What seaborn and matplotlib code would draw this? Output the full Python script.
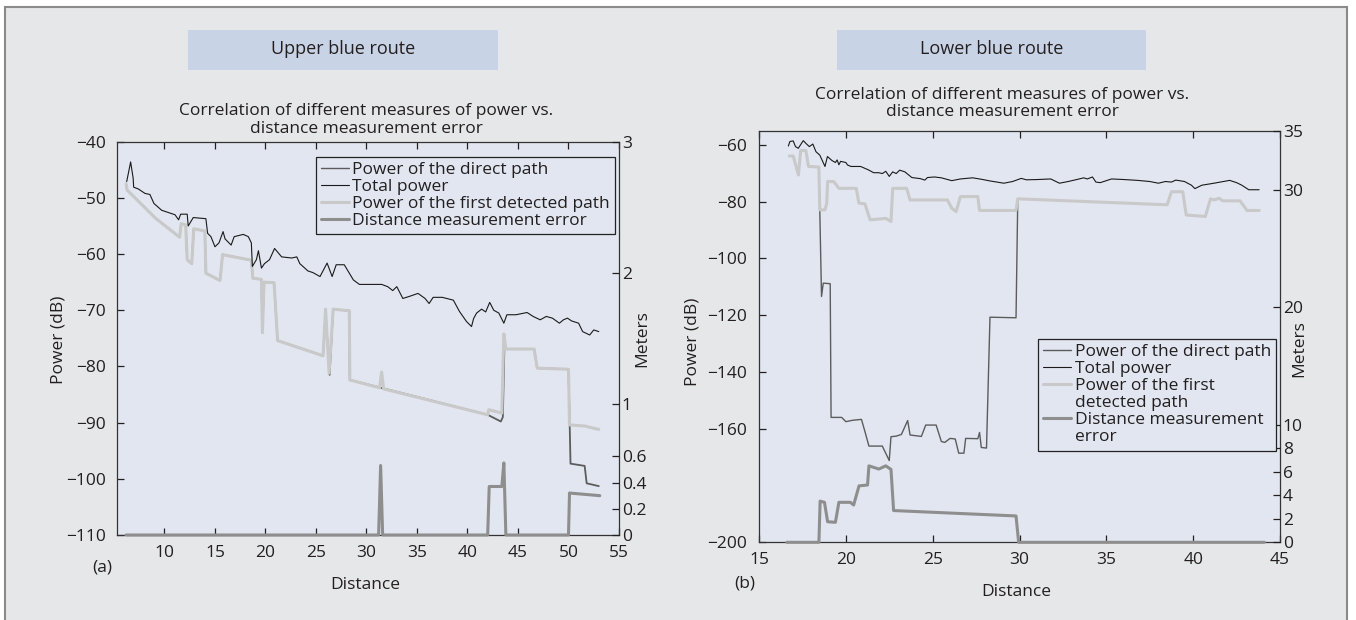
import matplotlib
matplotlib.use("Agg")
import matplotlib.pyplot as plt
import seaborn as sns
import numpy as np
from matplotlib.patches import Rectangle
from matplotlib.lines import Line2D

# ---------------- data: upper blue route (a) ----------------
up_total_x = [6.26, 6.65, 6.9, 6.95, 7.4, 8.07, 8.56, 8.96, 9.72, 10.54, 11.04, 11.4, 11.6, 12.25, 12.35,
              12.85, 14.1, 14.27, 14.6, 15.0, 15.4, 15.8, 16.0, 16.6, 16.9, 17.8, 18.3, 18.6, 18.7, 19.1,
              19.3, 19.6, 19.9, 20.4, 20.9, 21.6, 22.6, 23.1, 23.4, 24.2, 24.7, 25.4, 26.1, 26.6, 27.0,
              27.8, 28.7, 29.3, 31.5, 32.1, 32.6, 33.0, 33.6, 34.3, 35.1, 35.8, 36.2, 36.6, 37.5, 38.6,
              39.2, 39.9, 40.4, 40.6, 40.9, 41.4, 41.8, 42.2, 42.6, 43.1, 43.6, 43.9, 44.8, 45.9, 46.5,
              47.2, 47.8, 48.4, 49.1, 49.5, 49.9, 50.3, 51.0, 51.4, 52.1, 52.5, 53.0]
up_total_y = [-47.1, -43.6, -46.5, -48.1, -48.4, -49.2, -49.4, -51.0, -52.2, -52.7, -53.0, -53.9, -52.9, -52.9, -55.0,
              -53.5, -53.7, -56.3, -56.9, -58.7, -58.0, -56.0, -57.3, -58.4, -56.9, -56.5, -56.9, -58.0, -62.2, -61.0,
              -59.4, -62.5, -61.7, -61.0, -59.0, -60.5, -60.7, -60.5, -61.7, -63.0, -63.3, -64.0, -61.6, -64.0, -61.9,
              -61.9, -64.6, -65.4, -65.4, -65.8, -66.5, -65.8, -67.9, -67.5, -67.0, -67.9, -68.8, -67.7, -67.7, -68.2,
              -70.2, -72.0, -72.9, -71.5, -70.5, -69.8, -70.3, -68.6, -70.0, -70.5, -72.3, -70.8, -70.8, -70.4, -71.1,
              -71.7, -71.1, -71.4, -72.3, -71.7, -71.4, -71.9, -72.3, -73.8, -74.4, -73.5, -73.8]

up_first_x = [6.2, 6.3, 9.1, 11.5, 11.65, 12.1, 12.25, 12.7, 12.9, 14.0, 14.1, 15.5, 15.75, 18.6, 18.75,
              19.6, 19.7, 19.85, 20.85, 21.2, 25.7, 25.95, 26.3, 26.7, 28.3, 28.35, 31.3, 31.5, 31.7, 42.0,
              42.1, 43.4, 43.6, 43.8, 46.6, 46.9, 50.0, 50.1, 51.6, 52.5, 53.0]
up_first_y = [-47.5, -48.6, -53.6, -57.0, -54.6, -54.8, -61.0, -61.7, -55.5, -55.9, -63.4, -64.7, -60.1, -61.1, -64.3,
              -64.5, -74.0, -65.0, -65.1, -75.4, -78.1, -69.8, -81.2, -69.8, -70.1, -82.4, -83.8, -81.0, -84.0, -88.6,
              -87.7, -88.3, -74.2, -76.9, -76.9, -80.3, -80.5, -90.4, -90.6, -91.0, -91.2]

up_direct_x = [6.2, 6.3, 9.1, 11.5, 11.65, 12.1, 12.25, 12.7, 12.9, 14.0, 14.1, 15.5, 15.75, 18.6, 18.75,
               19.6, 19.7, 19.85, 20.85, 21.2, 25.7, 25.95, 26.35, 26.7, 28.3, 28.35, 42.0, 43.3, 43.5, 43.65,
               46.6, 46.9, 50.0, 50.2, 51.6, 51.8, 53.0]
up_direct_y = [-47.5, -48.6, -53.6, -57.0, -54.6, -54.8, -61.0, -61.7, -55.5, -55.9, -63.4, -64.7, -60.1, -61.1, -64.3,
               -64.5, -74.0, -65.0, -65.1, -75.4, -78.1, -70.5, -81.5, -69.8, -70.1, -82.4, -88.6, -89.8, -89.0, -76.9,
               -76.9, -80.3, -80.5, -97.3, -97.7, -100.8, -101.3]

up_err_x = [6.2, 31.2, 31.4, 31.6, 42.0, 42.15, 43.4, 43.6, 43.8, 50.0, 50.1, 53.1]
up_err_y = [0, 0, 0.53, 0, 0, 0.37, 0.37, 0.55, 0, 0, 0.32, 0.30]

# ---------------- data: lower blue route (b) ----------------
lo_total_x = [16.69, 16.78, 16.97, 17.1, 17.26, 17.55, 17.74, 17.9, 18.1, 18.28, 18.5, 18.8, 18.94, 19.2, 19.4,
              19.5, 19.6, 19.7, 20.0, 20.1, 20.3, 20.85, 21.3, 21.6, 21.9, 22.1, 22.3, 22.5, 22.7, 22.9,
              23.1, 23.4, 23.8, 24.3, 24.55, 24.7, 25.1, 25.5, 26.1, 26.6, 27.3, 27.8, 28.3, 29.1, 29.6,
              30.1, 30.4, 31.05, 31.8, 32.3, 32.8, 33.3, 33.7, 33.9, 34.2, 34.4, 34.65, 35.3, 36.0, 36.8,
              37.5, 38.0, 38.4, 38.75, 39.0, 39.5, 39.9, 40.1, 40.5, 41.2, 42.1, 42.5, 42.8, 43.2, 43.8]
lo_total_y = [-60.4, -58.8, -58.6, -60.6, -61.2, -58.5, -59.7, -60.6, -59.7, -62.4, -63.6, -67.6, -64.1, -65.5, -66.2,
              -65.3, -67.0, -65.8, -66.2, -67.1, -67.6, -67.6, -68.8, -69.8, -69.8, -70.1, -69.3, -71.1, -69.5, -70.1,
              -68.9, -69.5, -71.5, -71.9, -72.4, -71.5, -71.3, -71.6, -72.6, -72.0, -71.6, -72.1, -72.7, -73.5, -72.9,
              -71.8, -72.3, -72.2, -72.0, -73.5, -72.9, -72.2, -71.6, -72.0, -71.3, -73.1, -73.3, -72.0, -72.2, -72.5,
              -72.9, -73.5, -72.9, -73.1, -72.4, -72.9, -74.2, -75.4, -74.2, -73.5, -72.5, -73.3, -74.2, -75.8, -75.8]

lo_first_x = [16.75, 16.97, 17.27, 17.4, 17.7, 17.85, 18.45, 18.5, 18.8, 18.9, 18.95, 19.3, 19.6, 20.6, 20.75,
              21.1, 21.4, 22.3, 22.6, 22.7, 23.5, 23.7, 25.85, 26.1, 26.35, 26.6, 27.6, 27.7, 29.8, 29.9,
              38.5, 38.75, 39.4, 39.6, 40.7, 41.0, 41.2, 41.5, 41.7, 42.7, 43.1, 43.8]
lo_first_y = [-63.9, -63.9, -70.6, -62.0, -62.0, -67.6, -67.8, -82.9, -82.9, -80.5, -72.9, -72.9, -75.3, -75.3, -80.5,
              -80.8, -86.4, -85.9, -87.0, -75.3, -75.3, -79.4, -79.4, -82.3, -83.5, -78.2, -78.2, -83.1, -83.1, -79.0,
              -81.1, -76.5, -76.5, -84.7, -85.2, -79.0, -79.4, -78.8, -79.7, -79.7, -83.1, -83.1]

lo_direct_x = [16.75, 16.97, 17.27, 17.4, 17.7, 17.85, 18.45, 18.6, 18.7, 19.1, 19.15, 19.76, 20.0, 20.4, 20.9,
               21.1, 21.33, 22.1, 22.5, 22.6, 22.9, 23.2, 23.56, 23.7, 24.35, 24.6, 25.2, 25.5, 25.7, 26.0,
               26.3, 26.5, 26.8, 26.9, 27.6, 27.7, 27.8, 28.1, 28.3, 29.8, 29.9, 38.5, 38.75, 39.4, 39.6,
               40.7, 41.0, 41.2, 41.5, 41.7, 42.7, 43.1, 43.8]
lo_direct_y = [-63.9, -63.9, -70.6, -62.0, -62.0, -67.6, -67.8, -113.4, -108.7, -108.9, -156.0, -156.0, -157.5, -157.0, -156.7,
               -161.0, -166.1, -166.1, -171.2, -162.8, -162.6, -162.0, -157.1, -162.2, -162.7, -158.7, -158.7, -164.5, -164.8, -163.4,
               -163.6, -168.6, -168.6, -163.4, -163.5, -161.3, -166.6, -166.8, -120.7, -120.9, -79.0, -81.1, -76.5, -76.5, -84.7,
               -85.2, -79.0, -79.4, -78.8, -79.7, -79.7, -83.1, -83.1]

lo_err_x = [16.6, 18.45, 18.52, 18.77, 18.95, 19.4, 19.6, 20.26, 20.45, 20.76, 21.25, 21.33, 21.9, 22.3, 22.6,
            22.75, 29.8, 29.95, 44.1]
lo_err_y = [0, 0, 3.5, 3.4, 1.75, 1.7, 3.4, 3.4, 3.17, 4.8, 4.87, 6.5, 6.23, 6.5, 6.2,
            2.7, 2.24, 0, 0]

# ---------------- ticks / labels ----------------
up_xticks = [10, 15, 20, 25, 30, 35, 40, 45, 50, 55]
up_yticks = [-110, -100, -90, -80, -70, -60, -50, -40]
up_mticks = [0, 0.2, 0.4, 0.6, 1, 2, 3]
up_mlabels = ["0", "0.2", "0.4", "0.6", "1", "2", "3"]
lo_xticks = [15, 20, 25, 30, 35, 40, 45]
lo_yticks = [-200, -160, -140, -120, -100, -80, -60]
lo_mticks = [0, 2, 4, 6, 8, 10, 20, 30, 35]

series_names = ["Power of the direct path", "Total power",
                "Power of the first detected path", "Distance measurement error"]
title_text = "Correlation of different measures of power vs.\ndistance measurement error"

# ---------------- style ----------------
sns.set_style("white")
plt.rcParams['font.family'] = ['Open Sans', 'DejaVu Sans']
TXT = '#231f20'
plt.rcParams['text.color'] = TXT
plt.rcParams['axes.labelcolor'] = TXT
plt.rcParams['xtick.color'] = TXT
plt.rcParams['ytick.color'] = TXT
FS = 12.5
FS_HEAD = 13

C_DIRECT = '#5c5c5c'
C_TOTAL = '#1a1a1a'
C_FIRST = '#c9c9c9'
C_ERR = '#8e8e8e'
AX_BG = '#e1e6f0'

W, H = 1356, 620
fig = plt.figure(figsize=(W / 100, H / 100), dpi=100, facecolor='white')

def fx(px):
    return px / W

def fy(py):
    return 1 - py / H

# outer frame
fig.patches.append(Rectangle((fx(5), -0.05), fx(1347 - 5), fy(7) + 0.05, transform=fig.transFigure,
                             facecolor='#e6e7e8', edgecolor='#8a8a8a', linewidth=1.5, zorder=-5))
# header boxes
for x0, x1, txt in [(188, 498, "Upper blue route"), (837, 1146, "Lower blue route")]:
    fig.patches.append(Rectangle((fx(x0), fy(70)), fx(x1 - x0), (70 - 30) / H, transform=fig.transFigure,
                                 facecolor='#c9d3e6', edgecolor='none', zorder=-4))
    fig.text(fx((x0 + x1) / 2), fy(49), txt, ha='center', va='center', fontsize=FS_HEAD)


def make_panel(rect, xlim, ylim, mlim, xticks, yticks, mticks, mlabels, data, lw_direct, legend_anchor,
               legend_labels, title_xy, xlabel_xy, ylabel_xy, mlabel_xy, tag, tag_xy, ypad):
    ax = fig.add_axes(rect)
    ax.set_facecolor(AX_BG)
    (dx, dy), (tx, ty), (fxx, fyy), (ex, ey) = data
    sns.lineplot(x=dx, y=dy, ax=ax, estimator=None, sort=False, color=C_DIRECT, linewidth=lw_direct)
    sns.lineplot(x=fxx, y=fyy, ax=ax, estimator=None, sort=False, color=C_FIRST, linewidth=2.2)
    sns.lineplot(x=tx, y=ty, ax=ax, estimator=None, sort=False, color=C_TOTAL, linewidth=0.8)
    ax.set_xlim(*xlim)
    ax.set_ylim(*ylim)
    ax.set_xticks(xticks)
    ax.set_yticks(yticks)
    ax.tick_params(axis='both', direction='in', length=5, width=0.9, labelsize=FS,
                   top=True, right=True, bottom=True, left=True)
    ax.tick_params(axis='x', pad=7.0)
    ax.tick_params(axis='y', pad=ypad)
    for s in ax.spines.values():
        s.set_color('#333333')
        s.set_linewidth(0.9)

    ax2 = ax.twinx()
    ax2.set_facecolor('none')
    sns.lineplot(x=ex, y=ey, ax=ax2, estimator=None, sort=False, color=C_ERR, linewidth=2.2, clip_on=False)
    ax2.set_ylim(*mlim)
    ax2.set_yticks(mticks)
    ax2.set_yticklabels(mlabels)
    ax2.tick_params(axis='y', direction='in', length=5, width=0.9, labelsize=FS, pad=2)
    for s in ax2.spines.values():
        s.set_visible(False)

    ax.set_xlabel("Distance", fontsize=FS)
    ax.xaxis.set_label_coords(*xlabel_xy)
    ax.xaxis.label.set_va('center')
    ax.set_ylabel("Power (dB)", fontsize=FS)
    ax.yaxis.set_label_coords(*ylabel_xy)
    ax.yaxis.label.set_va('center')
    ax2.set_ylabel("Meters", fontsize=FS)
    ax2.yaxis.set_label_coords(*mlabel_xy)
    ax2.yaxis.label.set_va('center')

    fig.text(fx(title_xy[0]), fy(title_xy[1]), title_text, ha='center', va='center', fontsize=FS,
             linespacing=1.1)
    fig.text(fx(tag_xy[0]), fy(tag_xy[1]), tag, ha='center', va='center', fontsize=FS)

    # legend
    for a in (ax, ax2):
        lg = a.get_legend()
        if lg is not None:
            lg.remove()
    styles = [(C_DIRECT, 1.0), (C_TOTAL, 0.8), (C_FIRST, 2.2), (C_ERR, 2.2)]
    handles, labels = [], []
    for (c, lw), lab in zip(styles, legend_labels):
        parts = lab.split("\n")
        handles.append(Line2D([], [], color=c, linewidth=lw))
        labels.append(parts[0])
        for p in parts[1:]:
            handles.append(Line2D([], [], color='none', linewidth=0))
            labels.append(p)
    leg = ax2.legend(handles, labels, loc='upper right', bbox_to_anchor=(fx(legend_anchor[0]), fy(legend_anchor[1])),
                     bbox_transform=fig.transFigure, fontsize=FS, frameon=True, fancybox=False,
                     framealpha=1, facecolor=AX_BG, edgecolor='#222222', borderaxespad=0,
                     handlelength=1.6, handletextpad=0.2, labelspacing=0.05, borderpad=0.3)
    leg.get_frame().set_linewidth(0.9)
    return ax, ax2


# left panel: axes x 117..619, y 141.7..535
make_panel([fx(117), fy(535), fx(619 - 117), (535 - 141.7) / H], (5.3, 55), (-110, -40), (0, 3),
           up_xticks, up_yticks, up_mticks, up_mlabels,
           ((up_direct_x, up_direct_y), (up_total_x, up_total_y), (up_first_x, up_first_y), (up_err_x, up_err_y)),
           1.3, (615, 156.7), series_names,
           (366, 120), (0.495, -0.127), (-0.1165, 0.496), (1.0458, 0.5), "(a)", (102, 568), 7.9)

# right panel: axes x 759..1280, y 130.7..542.3
make_panel([fx(759), fy(542.3), fx(1280 - 759), (542.3 - 130.7) / H], (15, 45), (-200, -55), (0, 35),
           lo_xticks, lo_yticks, lo_mticks, [str(v) for v in lo_mticks],
           ((lo_direct_x, lo_direct_y), (lo_total_x, lo_total_y), (lo_first_x, lo_first_y), (lo_err_x, lo_err_y)),
           1.0, (1276, 339),
           ["Power of the direct path", "Total power", "Power of the first\ndetected path",
            "Distance measurement\nerror"],
           (1002, 103.4), (0.493, -0.1207), (-0.1267, 0.487), (1.0365, 0.47), "(b)", (745, 583), 8.6)

fig.savefig("out.png", dpi=100, facecolor=fig.get_facecolor())
